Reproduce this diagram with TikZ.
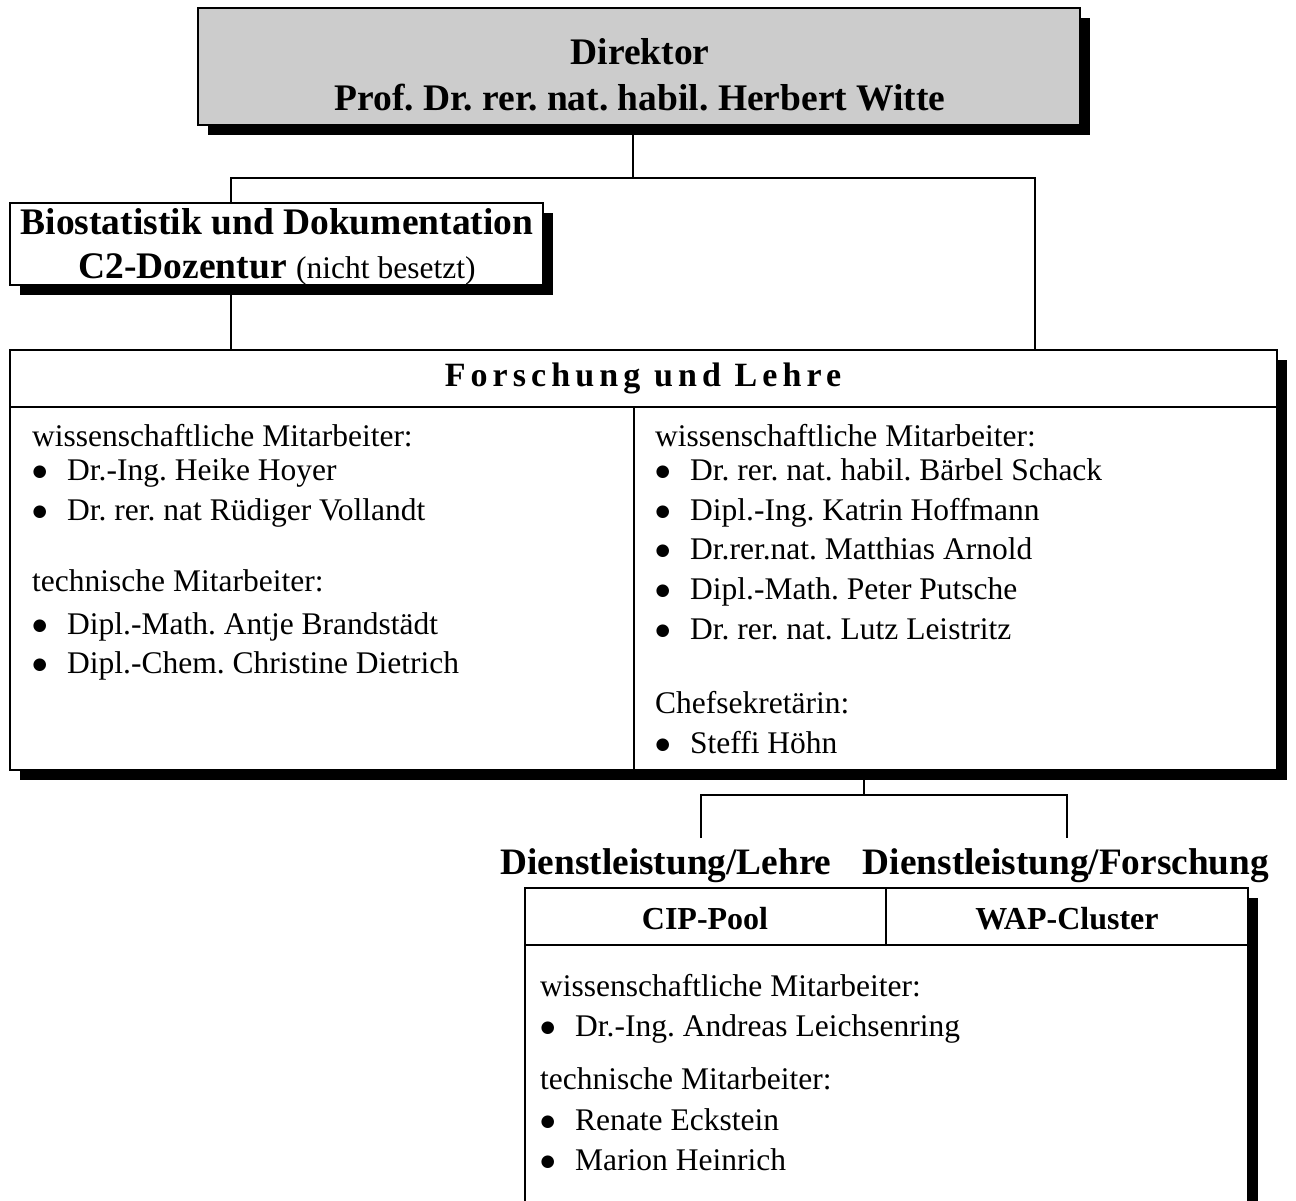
\documentclass[tikz,border=0pt]{standalone}
\usepackage{fontspec}
\setmainfont{Liberation Serif}
\newfontfamily\spacedserif{Liberation Serif}[LetterSpace=15]
\newfontfamily\bulletfont{DejaVu Sans}
\usetikzlibrary{shadows,calc}
\definecolor{boxgray}{RGB}{204,204,204}
\newcommand{\bul}{\makebox[35pt][l]{\hspace{0.5pt}\raisebox{4pt}{\bulletfont\fontsize{16.5}{16.5}\selectfont ●}}}
\frenchspacing
\begin{document}
\begin{tikzpicture}[x=1pt,y=-1pt,
  box/.style={draw=black, line width=1.8pt, fill=white, inner sep=0pt,
    drop shadow={shadow xshift=10pt, shadow yshift=-10pt, fill=black, opacity=1}},
  conn/.style={line width=1.5pt},
  sep/.style={line width=1.8pt},
  body/.style={anchor=base west, inner sep=0pt, font=\fontsize{31.5}{36}\selectfont\frenchspacing},
  head/.style={inner sep=0pt, align=center, font=\fontsize{37.3}{46}\selectfont\bfseries},
  sub/.style={inner sep=0pt, font=\fontsize{32}{38}\selectfont\bfseries},
]
\useasboundingbox (0,0) rectangle (1296,1200);
\clip (0,0) rectangle (1296,1200);

% Director
\node[box, fill=boxgray, minimum width=882pt, minimum height=117pt] (dir) at (639,66.5) {};
\node[head, font=\fontsize{37.5}{46}\selectfont\bfseries] (dirtext) at (640,75) {Direktor\\Prof. Dr. rer. nat. habil. Herbert Witte};

% Biostatistik
\node[box, minimum width=533pt, minimum height=82pt] (bio) at (276.5,244) {};
\node[head, font=\fontsize{37.5}{44}\selectfont\bfseries] (biotext) at (277,247)
  {Biostatistik und Dokumentation\\C2-Dozentur {\mdseries\fontsize{31.5}{44}\selectfont (nicht besetzt)}};

% Forschung und Lehre
\node[box, minimum width=1267pt, minimum height=420pt] (fl) at (643.5,560) {};
\coordinate (flh) at ($(fl.north west)+(0,58)$);
\coordinate (flhr) at ($(fl.north east)+(0,58)$);
\draw[sep] (flh) -- (flhr);
\coordinate (fldiv) at (634,408);
\draw[sep] (fldiv) -- (fldiv |- fl.south);
\node[inner sep=0pt, font=\fontsize{34}{36}\selectfont\spacedserif\bfseries] (fltitle) at (643,378) {Forschung und Lehre};

% left column
\node[body] (l1) at (32,446) {wissenschaftliche Mitarbeiter:};
\node[body] (l2) at (32,480) {\bul Dr.-Ing. Heike Hoyer};
\node[body] (l3) at (32,520) {\bul Dr. rer. nat Rüdiger Vollandt};
\node[body] (l4) at (32,591) {technische Mitarbeiter:};
\node[body] (l5) at (32,634) {\bul Dipl.-Math. Antje Brandstädt};
\node[body] (l6) at (32,673) {\bul Dipl.-Chem. Christine Dietrich};

% right column
\node[body] (r1) at (655,446) {wissenschaftliche Mitarbeiter:};
\node[body] (r2) at (655,480) {\bul Dr. rer. nat. habil. Bärbel Schack};
\node[body] (r3) at (655,520) {\bul Dipl.-Ing. Katrin Hoffmann};
\node[body] (r4) at (655,559) {\bul Dr.rer.nat. Matthias Arnold};
\node[body] (r5) at (655,599) {\bul Dipl.-Math. Peter Putsche};
\node[body] (r6) at (655,639) {\bul Dr. rer. nat. Lutz Leistritz};
\node[body] (r7) at (655,713) {Chefsekretärin:};
\node[body] (r8) at (655,753) {\bul Steffi Höhn};

% connectors top
\coordinate (hL) at (231,178);
\coordinate (hR) at (1035,178);
\coordinate (hM) at (633,178);
\draw[conn] (dir.south -| hM) -- (hM);
\draw[conn] (bio.north -| hL) -- (hL) -- (hR) -- (hR |- fl.north);
\draw[conn] (bio.south -| hL) -- (hL |- fl.north);

% service labels
\node[head] (dl1) at (666,866) {Dienstleistung/Lehre};
\node[head] (dl2) at (1066,866) {Dienstleistung/Forschung};

\coordinate (c3) at (864,795);
\coordinate (hL2) at (701,795);
\coordinate (hR2) at (1067,795);
\coordinate (eL2) at (701,838);
\coordinate (eR2) at (1067,838);
\draw[conn] (fl.south -| c3) -- (c3);
\draw[conn] (eL2) -- (hL2) -- (hR2) -- (eR2);

% bottom box
\node[box, minimum width=723pt, minimum height=342pt] (cw) at (886.5,1059) {};
\coordinate (cwh) at ($(cw.north west)+(0,58)$);
\coordinate (cwhr) at ($(cw.north east)+(0,58)$);
\draw[sep] (cwh) -- (cwhr);
\coordinate (cwdiv) at (886,946);
\draw[sep] (cwdiv) -- (cwdiv |- cw.north);
\node[sub] (cip) at (705,919) {CIP-Pool};
\node[sub] (wap) at (1067,919) {WAP-Cluster};

\node[body] (b1) at (540,996) {wissenschaftliche Mitarbeiter:};
\node[body] (b2) at (540,1036) {\bul Dr.-Ing. Andreas Leichsenring};
\node[body] (b3) at (540,1089) {technische Mitarbeiter:};
\node[body] (b4) at (540,1130) {\bul Renate Eckstein};
\node[body] (b5) at (540,1170) {\bul Marion Heinrich};
\end{tikzpicture}
\end{document}
